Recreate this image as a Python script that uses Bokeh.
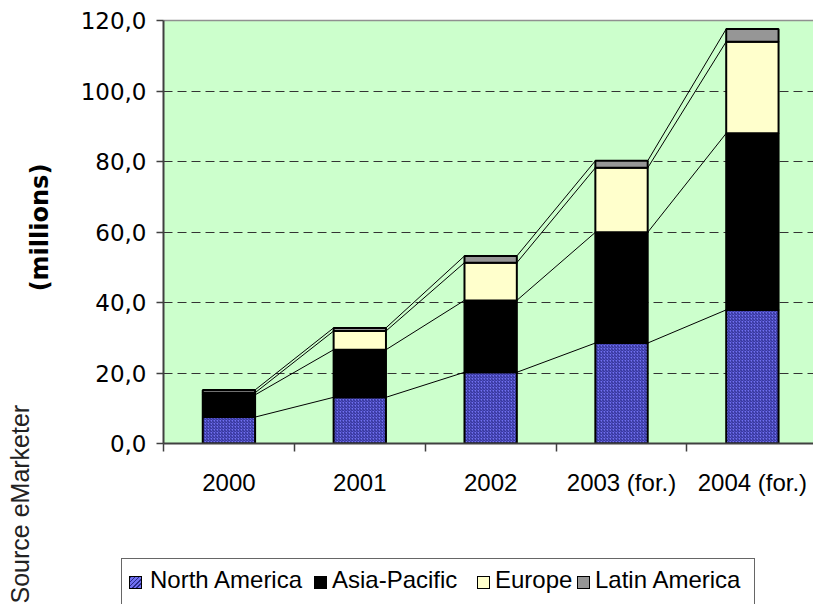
from math import pi
from bokeh.plotting import figure
from bokeh.layouts import row, column
from bokeh.models import Range1d, FixedTicker, Label, Div, LinearAxis
from bokeh.embed import file_html
from bokeh.resources import INLINE

categories = ["2000", "2001", "2002", "2003 (for.)", "2004 (for.)"]
north_america = [7.5, 13.1, 20.2, 28.5, 37.9]
asia_pacific = [6.3, 13.5, 20.4, 31.4, 50.1]
europe = [0.6, 5.3, 10.7, 18.3, 26.0]
latin_america = [0.8, 0.9, 1.9, 2.0, 3.6]
series_names = ["North America", "Asia-Pacific", "Europe", "Latin America"]
y_ticks = [0, 20, 40, 60, 80, 100, 120]
y_tick_labels = ["0,0", "20,0", "40,0", "60,0", "80,0", "100,0", "120,0"]
y_title = "(millions)"
source_note = "Source eMarketer"

series = [north_america, asia_pacific, europe, latin_america]
fills = ["#7070f0", "#000000", "#ffffcc", "#969696"]
hatch_color = "#2a2a8a"

xs = [i + 0.5 for i in range(len(categories))]
bar_w = 0.4

STRIP_W = 76

# left strip: rotated axis title and source note
strip = figure(width=STRIP_W, height=604, output_backend="svg", toolbar_location=None,
               x_range=Range1d(0, STRIP_W), y_range=Range1d(0, 604),
               x_axis_type=None, y_axis_type=None, min_border=0,
               background_fill_color="white", border_fill_color="white")
strip.outline_line_color = None
strip.grid.visible = False
strip.add_layout(Label(x=19, y=1, angle=pi / 2, text=source_note,
                       text_font="Liberation Sans", text_font_size="25px",
                       text_color="#222222", text_baseline="middle",
                       text_align="left"))
strip.add_layout(Label(x=39, y=377, angle=pi / 2, text=y_title,
                       text_font="DejaVu Sans", text_font_style="bold",
                       text_font_size="24px", text_color="black",
                       text_baseline="middle", text_align="center"))

p = figure(width=813 - STRIP_W, height=556, output_backend="svg", toolbar_location=None,
           x_range=Range1d(0, 4.967), y_range=Range1d(0, 120),
           min_border_left=163 - STRIP_W, min_border_right=0, min_border_top=20,
           min_border_bottom=113, background_fill_color="#ccffcc",
           border_fill_color="white")
p.outline_line_color = None

xa = p.below[0]
ya = p.left[0]

# top border of the plot area (the right side is cut off in the original)
top = LinearAxis(ticker=FixedTicker(ticks=[]), axis_line_color="#909090",
                 axis_line_width=1.5, major_tick_out=0, major_tick_in=0,
                 minor_tick_out=0, minor_tick_in=0, major_label_text_font_size="0px")
p.add_layout(top, "above")

# grid
p.xgrid.visible = False
p.ygrid.ticker = FixedTicker(ticks=y_ticks[1:-1])
p.ygrid.grid_line_color = "#333333"
p.ygrid.grid_line_dash = "9 5"
p.ygrid.grid_line_width = 1.2

# stacked bars
bottoms = [0.0] * len(xs)
levels = []
for vals, col in zip(series, fills):
    tops = [b + v for b, v in zip(bottoms, vals)]
    kw = {}
    if col == "#7070f0":
        kw = dict(hatch_pattern="right_diagonal_line", hatch_color=hatch_color,
                  hatch_scale=3, hatch_weight=1)
    p.vbar(x=xs, width=bar_w, bottom=bottoms, top=tops, fill_color=col,
           line_color="black", line_width=2, **kw)
    levels.append(tops)
    bottoms = tops

# series lines between bars
for tops in levels:
    p.segment(x0=[x + bar_w / 2 for x in xs[:-1]], y0=tops[:-1],
              x1=[x - bar_w / 2 for x in xs[1:]], y1=tops[1:],
              line_color="black", line_width=1)

# x axis
xa.ticker = FixedTicker(ticks=xs, minor_ticks=list(range(len(categories))))
xa.major_label_overrides = {x: c for x, c in zip(xs, categories)}
xa.major_tick_out = 0
xa.major_tick_in = 0
xa.minor_tick_out = 8
xa.minor_tick_in = 0
xa.minor_tick_line_color = "#404040"
xa.minor_tick_line_width = 1.5
xa.axis_line_color = "#404040"
xa.axis_line_width = 2
xa.major_label_text_font = "Liberation Sans"
xa.major_label_text_font_size = "24px"
xa.major_label_text_color = "black"
xa.major_label_standoff = 17

# y axis
ya.ticker = FixedTicker(ticks=y_ticks)
ya.major_label_overrides = {t: l for t, l in zip(y_ticks, y_tick_labels)}
ya.major_tick_out = 7
ya.major_tick_in = 0
ya.minor_tick_out = 0
ya.minor_tick_in = 0
ya.major_tick_line_color = "#404040"
ya.major_tick_line_width = 1.5
ya.axis_line_color = "#404040"
ya.axis_line_width = 2
ya.major_label_text_font = "DejaVu Sans"
ya.major_label_text_font_size = "23px"
ya.major_label_text_color = "black"
ya.major_label_standoff = 10

# legend strip (HTML) under the chart
swatch_bg = {
    "#7070f0": "repeating-linear-gradient(135deg, %s 0 1px, #7070f0 1px 3px)" % hatch_color,
}
item_lefts = [7, 192, 355, 455]
text_gaps = [21, 18, 18, 18]
items = []
for name, col, left, gap in zip(series_names, fills, item_lefts, text_gaps):
    bg = swatch_bg.get(col, col)
    items.append(
        '<div style="position:absolute;left:%dpx;top:17px;width:13px;height:13px;'
        'box-sizing:border-box;border:1.5px solid #000;background:%s;"></div>' % (left, bg))
    items.append(
        '<div style="position:absolute;left:%dpx;top:9px;height:24px;line-height:24px;'
        "font-family:'Liberation Sans';font-size:24px;color:#000;white-space:nowrap;\">%s</div>"
        % (left + gap, name))
legend_html = (
    '<div style="position:relative;width:%dpx;height:48px;overflow:hidden;">'
    '<div style="position:absolute;left:%dpx;top:2px;width:634px;height:60px;'
    'box-sizing:border-box;border:1px solid #666;background:#fff;">%s</div></div>'
    % (813 - STRIP_W, 121 - STRIP_W, "".join(items))
)
legend_div = Div(text=legend_html, width=813 - STRIP_W, height=48, margin=0)

layout = row(strip, column(p, legend_div, spacing=0), spacing=0)
open("out.html", "w").write(file_html(layout, INLINE))
